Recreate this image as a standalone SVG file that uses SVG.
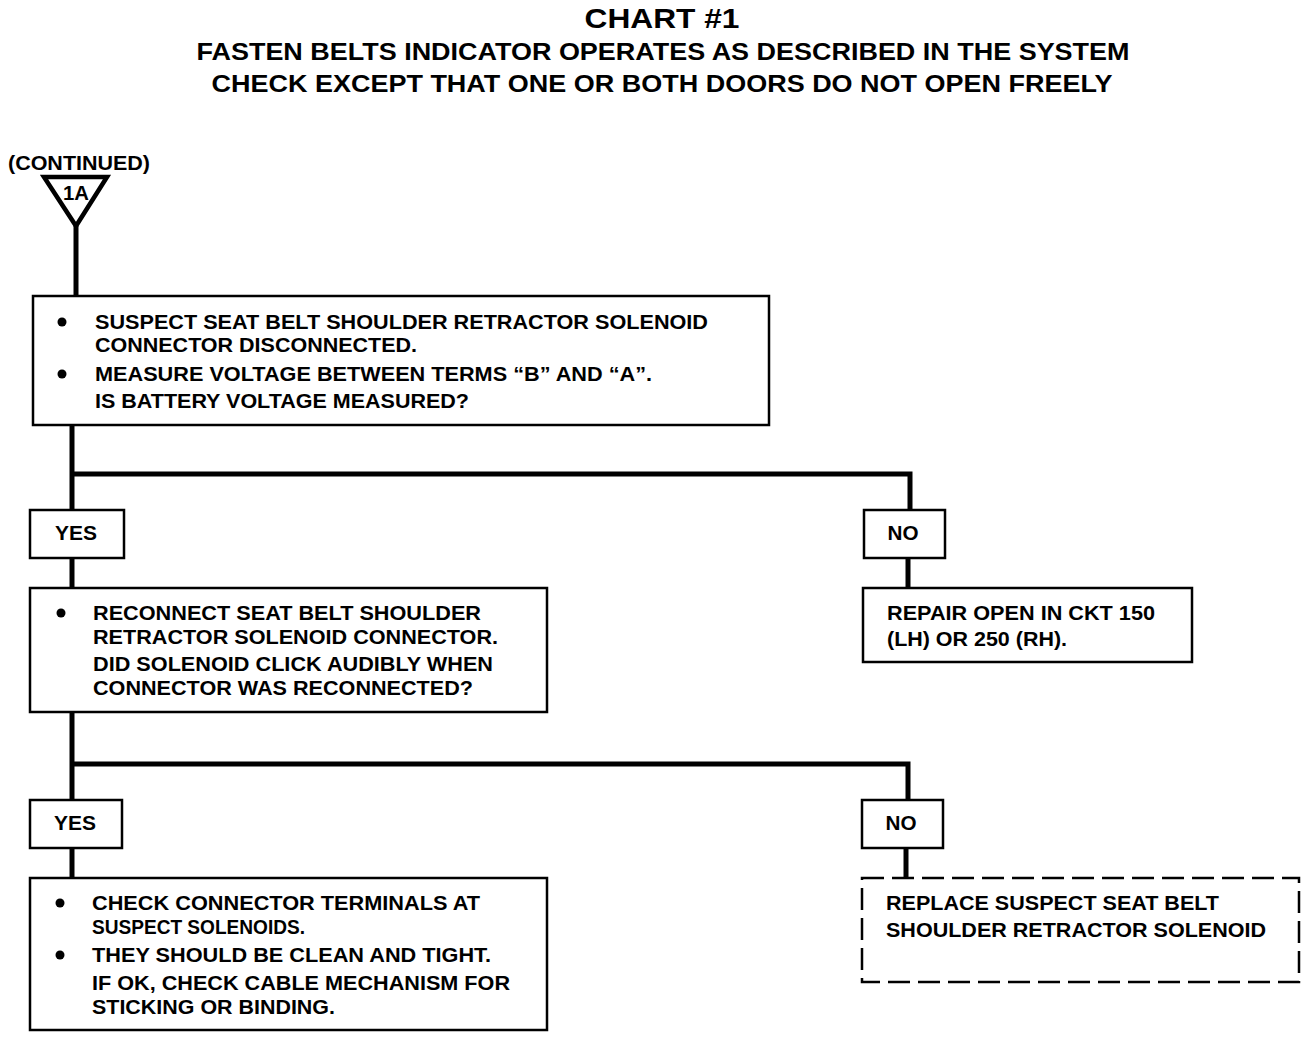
<svg xmlns="http://www.w3.org/2000/svg" width="1312" height="1038" viewBox="0 0 1312 1038">
<style>
text{font-family:"Liberation Sans",Arial,sans-serif;font-weight:bold;fill:#000}
.t{font-size:21px}
.h{font-size:23px}
.box{fill:#fff;stroke:#000;stroke-width:2.5}
.dash{fill:#fff;stroke:#000;stroke-width:2.5;stroke-dasharray:22 8}
.wire{fill:none;stroke:#000;stroke-width:5}
.c{text-anchor:middle}
</style>
<rect width="1312" height="1038" fill="#fff"/>
<g id="title">
<text x="662" y="28" class="c" font-size="28" textLength="155" lengthAdjust="spacingAndGlyphs">CHART #1</text>
<text x="663" y="60" class="h c" textLength="933" lengthAdjust="spacingAndGlyphs">FASTEN BELTS INDICATOR OPERATES AS DESCRIBED IN THE SYSTEM</text>
<text x="662" y="92" class="h c" textLength="901" lengthAdjust="spacingAndGlyphs">CHECK EXCEPT THAT ONE OR BOTH DOORS DO NOT OPEN FREELY</text>
</g>
<g id="connectors">
<line class="wire" x1="76" y1="226" x2="76" y2="296"/>
<polyline class="wire" points="72,425 72,512"/>
<polyline class="wire" points="72,474 910,474 910,512"/>
<line class="wire" x1="72" y1="557" x2="72" y2="589"/>
<line class="wire" x1="908" y1="557" x2="908" y2="589"/>
<polyline class="wire" points="72,712 72,802"/>
<polyline class="wire" points="72,764 908,764 908,802"/>
<line class="wire" x1="72" y1="847" x2="72" y2="879"/>
<line class="wire" x1="906" y1="847" x2="906" y2="879"/>
</g>
<g id="start">
<text x="8" y="170" font-size="20" textLength="142" lengthAdjust="spacingAndGlyphs">(CONTINUED)</text>
<polygon points="44,177 107,177 76,226" fill="#fff" stroke="#000" stroke-width="4.5" stroke-linejoin="miter"/>
<text x="76" y="200" class="c" font-size="21" textLength="26" lengthAdjust="spacingAndGlyphs">1A</text>
</g>
<g id="box1">
<rect class="box" x="33" y="296" width="736" height="129"/>
<circle cx="62" cy="322" r="4.5"/>
<text class="t" x="95" y="329" textLength="613" lengthAdjust="spacingAndGlyphs">SUSPECT SEAT BELT SHOULDER RETRACTOR SOLENOID</text>
<text class="t" x="95" y="352" textLength="322" lengthAdjust="spacingAndGlyphs">CONNECTOR DISCONNECTED.</text>
<circle cx="62" cy="374" r="4.5"/>
<text class="t" x="95" y="381" textLength="557" lengthAdjust="spacingAndGlyphs">MEASURE VOLTAGE BETWEEN TERMS “B” AND “A”.</text>
<text class="t" x="95" y="408" textLength="374" lengthAdjust="spacingAndGlyphs">IS BATTERY VOLTAGE MEASURED?</text>
</g>
<g id="yes1">
<rect class="box" x="30" y="510" width="94" height="48"/>
<text class="t c" x="76" y="540" textLength="42" lengthAdjust="spacingAndGlyphs">YES</text>
</g>
<g id="no1">
<rect class="box" x="864" y="510" width="81" height="48"/>
<text class="t c" x="903" y="540" textLength="31" lengthAdjust="spacingAndGlyphs">NO</text>
</g>
<g id="box2">
<rect class="box" x="30" y="588" width="517" height="124"/>
<circle cx="61" cy="613" r="4.5"/>
<text class="t" x="93" y="620" textLength="388" lengthAdjust="spacingAndGlyphs">RECONNECT SEAT BELT SHOULDER</text>
<text class="t" x="93" y="644" textLength="405" lengthAdjust="spacingAndGlyphs">RETRACTOR SOLENOID CONNECTOR.</text>
<text class="t" x="93" y="671" textLength="400" lengthAdjust="spacingAndGlyphs">DID SOLENOID CLICK AUDIBLY WHEN</text>
<text class="t" x="93" y="695" textLength="380" lengthAdjust="spacingAndGlyphs">CONNECTOR WAS RECONNECTED?</text>
</g>
<g id="repair">
<rect class="box" x="863" y="588" width="329" height="74"/>
<text class="t" x="887" y="620" textLength="268" lengthAdjust="spacingAndGlyphs">REPAIR OPEN IN CKT 150</text>
<text class="t" x="887" y="646" textLength="180" lengthAdjust="spacingAndGlyphs">(LH) OR 250 (RH).</text>
</g>
<g id="yes2">
<rect class="box" x="30" y="800" width="92" height="48"/>
<text class="t c" x="75" y="830" textLength="42" lengthAdjust="spacingAndGlyphs">YES</text>
</g>
<g id="no2">
<rect class="box" x="862" y="800" width="81" height="48"/>
<text class="t c" x="901" y="830" textLength="31" lengthAdjust="spacingAndGlyphs">NO</text>
</g>
<g id="box3">
<rect class="box" x="30" y="878" width="517" height="152"/>
<circle cx="60" cy="903" r="4.5"/>
<text class="t" x="92" y="910" textLength="388" lengthAdjust="spacingAndGlyphs">CHECK CONNECTOR TERMINALS AT</text>
<text class="t" x="92" y="934" textLength="213" lengthAdjust="spacingAndGlyphs">SUSPECT SOLENOIDS.</text>
<circle cx="60" cy="955" r="4.5"/>
<text class="t" x="92" y="962" textLength="399" lengthAdjust="spacingAndGlyphs">THEY SHOULD BE CLEAN AND TIGHT.</text>
<text class="t" x="92" y="990" textLength="418" lengthAdjust="spacingAndGlyphs">IF OK, CHECK CABLE MECHANISM FOR</text>
<text class="t" x="92" y="1014" textLength="243" lengthAdjust="spacingAndGlyphs">STICKING OR BINDING.</text>
</g>
<g id="replace">
<rect class="dash" x="862" y="878" width="437" height="104"/>
<text class="t" x="886" y="910" textLength="333" lengthAdjust="spacingAndGlyphs">REPLACE SUSPECT SEAT BELT</text>
<text class="t" x="886" y="937" textLength="380" lengthAdjust="spacingAndGlyphs">SHOULDER RETRACTOR SOLENOID</text>
</g>
</svg>
